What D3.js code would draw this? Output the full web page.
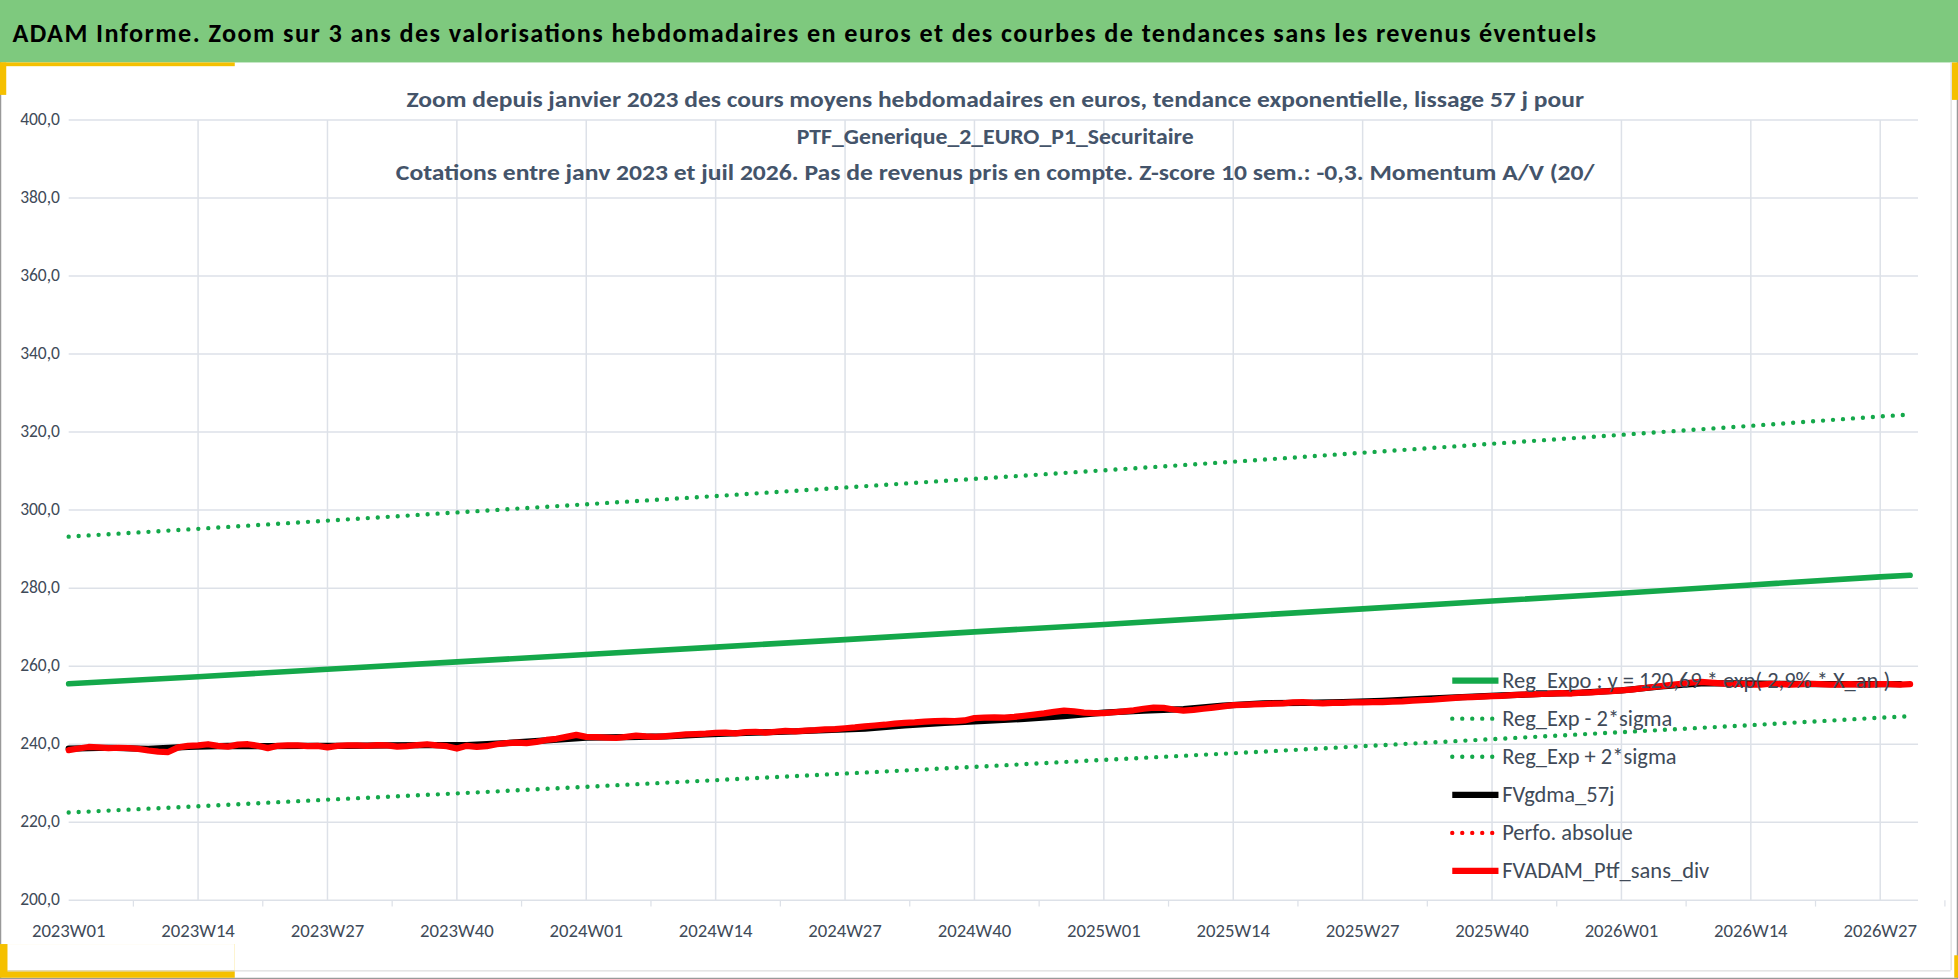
<!DOCTYPE html>
<html><head><meta charset="utf-8">
<script src="https://cdn.jsdelivr.net/npm/d3@7"></script>
<style>body{margin:0;background:#fff}svg{display:block}</style>
</head><body>
<svg id="chart"></svg>
<script>
// week labels shown on the x axis (every 13 weeks)
const tickLabels = ["2023W01","2023W14","2023W27","2023W40","2024W01","2024W14","2024W27","2024W40","2025W01","2025W14","2025W27","2025W40","2026W01","2026W14","2026W27"];
const tickIdx = [0,13,26,39,52,65,78,91,104,117,130,143,156,169,182];
const yTicks = [200,220,240,260,280,300,320,340,360,380,400];

// trend lines sampled every 13 weeks (+ last week)
const trendIdx = [0,13,26,39,52,65,78,91,104,117,130,143,156,169,182,185];
const regExpo = [255.5,257.3,259.2,261.1,263.0,264.9,266.8,268.8,270.7,272.7,274.7,276.7,278.7,280.8,282.9,283.3];
const regMinus = [222.5,224.1,225.8,227.4,229.1,230.8,232.5,234.2,236.0,237.7,239.5,241.3,243.1,244.9,246.8,247.2];
const regPlus = [293.2,295.2,297.3,299.4,301.5,303.6,305.8,308.0,310.2,312.4,314.7,317.0,319.3,321.6,324.0,324.5];

// weekly portfolio value, 2023W01 .. 2026W30
const fvadam = [
238.5,238.9,239.3,239.2,239.0,239.1,239.0,238.8,238.4,238.1,238.0,239.2,239.6,239.7,240.0,239.6,239.4,239.9,240.0,239.6,239.0,239.6,239.7,239.7,239.5,239.6,239.2,239.6,239.7,239.7,239.6,239.8,239.7,239.4,239.5,239.8,240.0,239.7,239.5,238.9,239.6,239.3,239.5,240.0,240.3,240.4,240.3,240.6,241.1,241.4,241.9,242.4,
241.9,241.8,241.7,241.6,241.9,242.2,242.0,241.9,242.1,242.3,242.5,242.6,242.7,242.9,243.0,242.8,243.1,243.2,243.0,243.2,243.4,243.3,243.5,243.6,243.8,243.9,244.1,244.3,244.6,244.8,245.0,245.3,245.5,245.6,245.8,245.9,246.0,245.9,246.1,246.7,246.8,246.9,246.8,247.0,247.3,247.6,247.9,248.3,248.6,248.4,248.1,248.0,
248.0,248.2,248.4,248.7,249.1,249.4,249.3,248.9,248.6,248.8,249.1,249.4,249.7,250.0,250.1,250.2,250.3,250.4,250.5,250.7,250.8,250.6,250.5,250.6,250.6,250.7,250.7,250.8,250.8,250.9,251.0,251.2,251.3,251.4,251.6,251.8,252.0,252.1,252.2,252.3,252.4,252.6,252.7,252.8,252.9,253.0,253.1,253.0,253.2,253.3,253.5,253.6,
253.8,254.0,254.3,254.6,254.9,255.2,255.5,255.8,256.0,255.8,255.6,255.4,255.5,255.3,255.3,255.5,255.4,255.3,255.4,255.5,255.4,255.3,255.3,255.4,255.3,255.3,255.4,255.4,255.3,255.4];

// smoothed 57 days, every 4 weeks
const gdmaIdx = d3.range(0, 185, 4);
const fvgdma = [238.9,239.1,238.8,239.3,239.6,239.5,239.6,239.6,239.7,239.8,239.8,240.3,241.0,241.7,241.8,242.0,242.5,242.9,243.2,243.6,244.0,244.8,245.5,246.0,246.5,247.2,248.1,248.6,249.0,249.9,250.5,250.6,250.8,251.1,251.6,252.1,252.5,252.9,253.2,253.8,254.8,255.6,255.6,255.5,255.4,255.4,255.4];

const legendItems = [
  {name:"Reg_Expo : y = 120,69 * exp( 2,9% * X_an )", color:"#14a84a", dash:null},
  {name:"Reg_Exp - 2*sigma", color:"#14a84a", dash:"0 8"},
  {name:"Reg_Exp + 2*sigma", color:"#14a84a", dash:"0 8"},
  {name:"FVgdma_57j", color:"#000", dash:null},
  {name:"Perfo. absolue", color:"#f00", dash:"0 8"},
  {name:"FVADAM_Ptf_sans_div", color:"#f00", dash:null}
];

const W = 1568, H = 784;
const svg = d3.select("#chart").attr("width", 1958).attr("height", 979).attr("viewBox", [0, 0, W, H]);
const font = "Calibri, 'Liberation Sans Narrow', 'Open Sans', sans-serif";
const font2 = "Calibri, Lato, 'Open Sans', sans-serif";

// frame and header
svg.append("rect").attr("x",0.5).attr("y",0.5).attr("width",W-1).attr("height",H-1).attr("fill","#fff").attr("stroke","#999");
svg.append("rect").attr("x",0).attr("y",0).attr("width",W).attr("height",50).attr("fill","#7ec97e");
svg.append("text").attr("x",10).attr("y",34).attr("font-family",font2).attr("font-weight","bold").attr("font-size",21)
  .attr("fill","#000").attr("textLength",1268).text("ADAM Informe. Zoom sur 3 ans des valorisations hebdomadaires en euros et des courbes de tendances sans les revenus éventuels");
// yellow accents
svg.append("rect").attr("x",0).attr("y",50).attr("width",188).attr("height",3).attr("fill","#f5c000");
svg.append("rect").attr("x",0).attr("y",50).attr("width",5).attr("height",26).attr("fill","#f5c000");
svg.append("rect").attr("x",0).attr("y",756).attr("width",188).attr("height",27).attr("fill","#f5c000");
svg.append("rect").attr("x",6).attr("y",756).attr("width",182).attr("height",21).attr("fill","#fff");
svg.append("rect").attr("x",1563).attr("y",50).attr("width",5).attr("height",30).attr("fill","#f5c000");
svg.append("rect").attr("x",1565).attr("y",765).attr("width",3).attr("height",18).attr("fill","#f5c000");
svg.append("line").attr("x1",6).attr("x2",1562).attr("y1",777.5).attr("y2",777.5).attr("stroke","#ddd");
svg.append("line").attr("x1",1562.5).attr("x2",1562.5).attr("y1",50).attr("y2",777).attr("stroke","#ddd");

// scales
const x = d3.scaleLinear().domain([0, 185.8]).range([55, 1536]);
const y = d3.scaleLinear().domain([200, 400]).range([721, 96]);

// grid
svg.append("g").selectAll("line").data(yTicks).join("line")
  .attr("x1",55).attr("x2",1536).attr("y1",d=>y(d)).attr("y2",d=>y(d)).attr("stroke","#dde1e8").attr("stroke-width",1.2);
svg.append("g").selectAll("line").data(tickIdx.slice(1)).join("line")
  .attr("x1",d=>x(d)).attr("x2",d=>x(d)).attr("y1",96).attr("y2",721).attr("stroke","#dde1e8").attr("stroke-width",1.2);
svg.append("g").selectAll("line").data(tickIdx.map(d=>d+6.5)).join("line")
  .attr("x1",d=>x(d)).attr("x2",d=>x(d)).attr("y1",721).attr("y2",726).attr("stroke","#dde1e8");

// axis labels
svg.append("g").selectAll("text").data(yTicks).join("text")
  .attr("x",48).attr("y",d=>y(d)+4).attr("text-anchor","end").attr("font-family",font).attr("font-size",14).attr("fill","#404a58")
  .text(d=>d3.format(".1f")(d).replace(".",","));
svg.append("g").selectAll("text").data(tickIdx).join("text")
  .attr("x",d=>x(d)).attr("y",750).attr("text-anchor","middle").attr("font-family",font).attr("font-size",15).attr("fill","#404a58")
  .text((d,i)=>tickLabels[i]);

// chart titles
const titles = ["Zoom depuis janvier 2023 des cours moyens hebdomadaires  en euros, tendance exponentielle, lissage 57 j pour",
  "PTF_Generique_2_EURO_P1_Securitaire",
  "Cotations  entre janv 2023 et juil 2026. Pas de revenus pris en compte. Z-score 10 sem.: -0,3. Momentum A/V (20/"];
const titleLen = [943, 318, 960];
svg.append("g").selectAll("text").data(titles).join("text")
  .attr("x",797).attr("y",(d,i)=>86+i*29).attr("text-anchor","middle").attr("font-family",font2).attr("font-weight","bold")
  .attr("font-size",18).attr("fill","#44546a").attr("textLength",(d,i)=>titleLen[i]).attr("lengthAdjust","spacingAndGlyphs").text(d=>d);

// lines
const line = d3.line().x(d=>x(d[0])).y(d=>y(d[1]));
function draw(idx, vals, color, w, dash) {
  const p = svg.append("path").datum(idx.map((d,i)=>[d, vals[i]])).attr("d", line)
    .attr("fill","none").attr("stroke",color).attr("stroke-width",w).attr("stroke-linejoin","round").attr("stroke-linecap","round");
  if (dash) p.attr("stroke-dasharray", dash);
}
draw(trendIdx, regPlus, "#14a84a", 3.5, "0 8");
draw(trendIdx, regExpo, "#14a84a", 4.5);
draw(trendIdx, regMinus, "#14a84a", 3.5, "0 8");
draw(gdmaIdx, fvgdma, "#000", 5);
draw(d3.range(fvadam.length), fvadam, "#f00", 5);

// legend
const lg = svg.append("g").selectAll("g").data(legendItems).join("g")
  .attr("transform",(d,i)=>`translate(1163,${545+i*30.5})`);
lg.append("line").attr("x1",0).attr("x2",37).attr("stroke",d=>d.color).attr("stroke-width",d=>d.dash?3.5:5)
  .attr("stroke-linecap",d=>d.dash?"round":"butt").attr("stroke-dasharray",d=>d.dash);
lg.append("text").attr("x",40).attr("y",6).attr("font-family",font).attr("font-size",18).attr("fill","#404a58").text(d=>d.name);
</script>
</body></html>
